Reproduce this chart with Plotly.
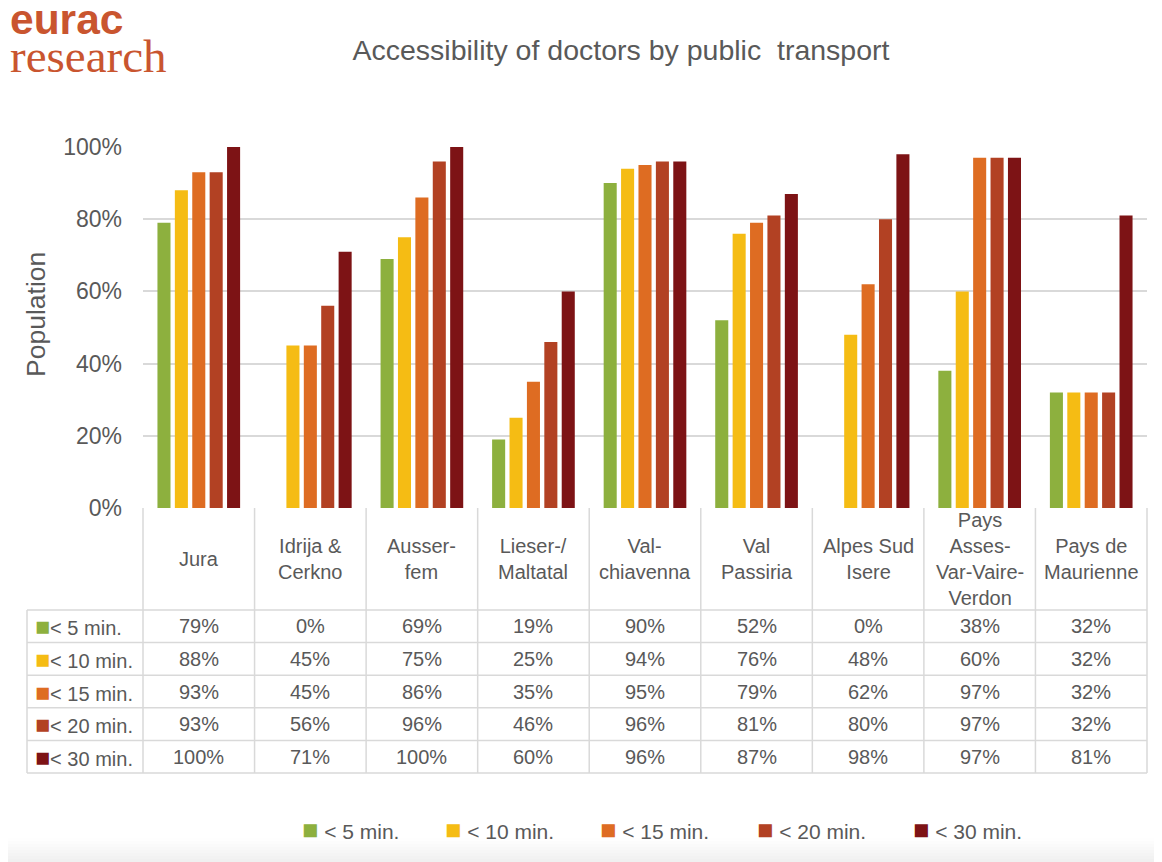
import plotly.graph_objects as go

# population share (%) reaching a doctor by public transport within the time band
regions = ["Jura", "Idrija &<br>Cerkno", "Ausser-<br>fem", "Lieser-/<br>Maltatal",
           "Val-<br>chiavenna", "Val<br>Passiria", "Alpes Sud<br>Isere",
           "Pays<br>Asses-<br>Var-Vaire-<br>Verdon", "Pays de<br>Maurienne"]
bands = ["< 5 min.", "< 10 min.", "< 15 min.", "< 20 min.", "< 30 min."]
lt5 = [79, 0, 69, 19, 90, 52, 0, 38, 32]
lt10 = [88, 45, 75, 25, 94, 76, 48, 60, 32]
lt15 = [93, 45, 86, 35, 95, 79, 62, 97, 32]
lt20 = [93, 56, 96, 46, 96, 81, 80, 97, 32]
lt30 = [100, 71, 100, 60, 96, 87, 98, 97, 81]
y_ticks = [0, 20, 40, 60, 80, 100]

series = [lt5, lt10, lt15, lt20, lt30]
colors = ["#8DB03E", "#F5BC14", "#DE6C22", "#B24123", "#7D1315"]

# the page body has an 8px margin, so the figure is a bit smaller and
# every pixel position below is given in window coordinates
OFF = 8
W, H = 1162 - OFF, 862 - OFF
FONT = "Liberation Sans, Arial, sans-serif"
GREY = "#595959"
LINE = "#d9d9d9"
LOGO = "#C9552F"


def px(x):
    return (x - OFF) / W


def py(y):
    return 1 - (y - OFF) / H


def swatch(col, size):
    return f'<span style="color:{col};font-size:{size}px">■</span>'


# plot area / table geometry in window pixels
left, right, top, bottom = 143, 1147, 147, 508
label_left = 27
header_bottom = 610
row_h = 32.6
n_rows = len(bands)

fig = go.Figure()
for name, vals, col in zip(bands, series, colors):
    fig.add_trace(go.Bar(x=regions, y=vals, name=name, marker_color=col,
                         marker_line_width=0, showlegend=False,
                         hovertemplate="%{y}%<extra>" + name + "</extra>"))

shapes = []
annotations = []

# table borders
col_w = (right - left) / len(regions)
table_bottom = header_bottom + n_rows * row_h
for k in range(len(regions) + 1):
    xx = left + k * col_w
    shapes.append(dict(type="line", xref="paper", yref="paper", x0=px(xx), x1=px(xx),
                       y0=py(bottom), y1=py(table_bottom),
                       line=dict(color=LINE, width=1.5)))
shapes.append(dict(type="line", xref="paper", yref="paper", x0=px(label_left), x1=px(label_left),
                   y0=py(header_bottom), y1=py(table_bottom),
                   line=dict(color=LINE, width=1.5)))
for r in range(n_rows + 1):
    yy = header_bottom + r * row_h
    shapes.append(dict(type="line", xref="paper", yref="paper", x0=px(label_left), x1=px(right),
                       y0=py(yy), y1=py(yy), line=dict(color=LINE, width=1.5)))

# header cells
for reg in regions:
    annotations.append(dict(x=reg, xref="x", y=py((bottom + header_bottom) / 2), yref="paper",
                            text=reg, showarrow=False, xanchor="center", yanchor="middle",
                            font=dict(family=FONT, size=20, color=GREY)))

# data cells and row labels
for r, (name, vals, col) in enumerate(zip(bands, series, colors)):
    yc = py(header_bottom + (r + 0.5) * row_h)
    annotations.append(dict(x=px(33), xref="paper", y=yc, yref="paper",
                            text=swatch(col, 25) + name.replace("<", "&lt;"),
                            showarrow=False, xanchor="left", yanchor="middle",
                            font=dict(family=FONT, size=20, color=GREY)))
    for reg, v in zip(regions, vals):
        annotations.append(dict(x=reg, xref="x", y=yc, yref="paper", text=f"{v}%",
                                showarrow=False, xanchor="center", yanchor="middle",
                                font=dict(family=FONT, size=20, color=GREY)))

# legend at the bottom
legend_x = [300, 443, 598, 755, 911]
for name, col, lx in zip(bands, colors, legend_x):
    annotations.append(dict(x=px(lx), xref="paper", y=py(830), yref="paper",
                            text=swatch(col, 27) + " " + name.replace("<", "&lt;"),
                            showarrow=False, xanchor="left", yanchor="middle",
                            font=dict(family=FONT, size=21, color=GREY)))

# y axis title
annotations.append(dict(x=px(36), xref="paper", y=py(315), yref="paper", text="Population",
                        textangle=-90, showarrow=False, xanchor="center", yanchor="middle",
                        font=dict(family=FONT, size=26.5, color=GREY)))

# logo: two lines in one text block
logo = ('<span style="font-size:42.5px"><b>eurac</b></span><br>'
        '<span style="font-family:\'Liberation Serif\', serif;font-size:47px">research</span>')
annotations.append(dict(x=px(OFF), xref="paper", y=py(39), yref="paper", text=logo,
                        showarrow=False, xanchor="left", yanchor="middle", align="left",
                        font=dict(family=FONT, size=29, color=LOGO)))

# soft grey fade at the bottom edge
fade = ["#fefefe", "#fcfcfc", "#fafafa", "#f8f8f8", "#f6f6f6", "#f4f4f4", "#f2f2f2", "#f0f0f0"]
for i, c in enumerate(fade):
    shapes.append(dict(type="rect", xref="paper", yref="paper", x0=0, x1=1,
                       y0=py(838 + i * 3 + 3), y1=py(838 + i * 3), fillcolor=c,
                       line_width=0, layer="below"))

fig.update_layout(
    width=W, height=H,
    margin=dict(l=0, r=0, t=0, b=0),
    paper_bgcolor="white", plot_bgcolor="white",
    barmode="group", bargap=0.22, bargroupgap=0.25,
    title=dict(text="Accessibility of doctors by public  transport", x=px(621), y=py(50),
               xanchor="center", yanchor="middle",
               font=dict(family=FONT, size=28.5, color=GREY)),
    xaxis=dict(domain=[px(left), px(right)], type="category", showticklabels=False,
               showgrid=False, zeroline=False, showline=False, ticks="", automargin=False),
    yaxis=dict(domain=[py(bottom), py(top)], range=[0, 100], tickvals=y_ticks,
               ticktext=[f"{t}%" for t in y_ticks], showgrid=True, gridcolor=LINE,
               gridwidth=1.5, zeroline=False, showline=False, ticklabelstandoff=20,
               automargin=False, tickfont=dict(family=FONT, size=23, color=GREY)),
    shapes=shapes,
    annotations=annotations,
    showlegend=False,
)

fig.write_html("out.html")
